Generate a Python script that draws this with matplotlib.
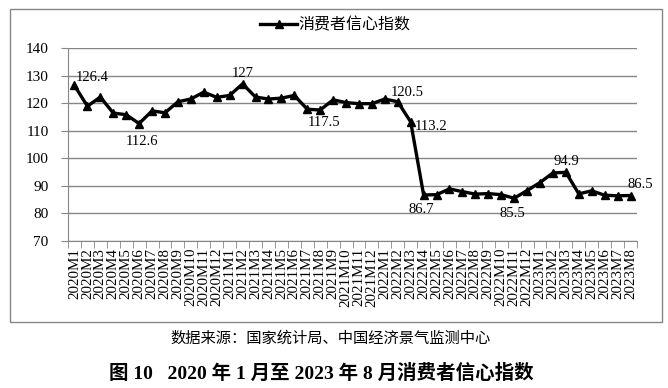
import numpy as np
import matplotlib.pyplot as plt
from matplotlib.patches import Rectangle

plt.rcParams['font.family'] = ['Liberation Serif', 'Noto Sans CJK SC']

months = ['2020M%d' % i for i in range(1, 13)] + \
         ['2021M%d' % i for i in range(1, 13)] + \
         ['2022M%d' % i for i in range(1, 13)] + \
         ['2023M%d' % i for i in range(1, 9)]

cci = [126.4, 118.9, 122.2, 116.4, 115.8, 112.6, 117.2, 116.5, 120.5, 121.5, 124.0, 122.1,
       122.8, 127.0, 122.2, 121.5, 121.8, 122.8, 117.8, 117.5, 121.2, 120.2, 119.8, 119.8,
       121.5, 120.5, 113.2, 86.7, 86.8, 88.9, 87.9, 87.0, 87.2, 86.8, 85.5, 88.3,
       91.2, 94.7, 94.9, 87.1, 88.2, 86.6, 86.4, 86.5]

# index, offset (pt), ha, va
notes = [(0, (1, 1), 'left', 'bottom'),
         (5, (2, -8), 'center', 'top'),
         (13, (0, 3), 'center', 'bottom'),
         (19, (3, -4), 'center', 'top'),
         (25, (-5, 2), 'left', 'bottom'),
         (26, (3, -3), 'left', 'center'),
         (27, (-2, -6), 'center', 'top'),
         (34, (-1, -6), 'center', 'top'),
         (38, (0, 3), 'center', 'bottom'),
         (43, (-2, 3), 'left', 'bottom')]

grey = '#868686'
fig = plt.figure(figsize=(6.68, 3.88), dpi=100)
fig.patches.append(Rectangle((10 / 668, 1 - 322 / 388), 652 / 668, 313 / 388,
                             transform=fig.transFigure, fill=False,
                             edgecolor=grey, lw=1))
ax = fig.add_axes([68 / 668, 1 - 241 / 388, 569 / 668, 193 / 388])

x = np.arange(len(months))
ax.plot(x, cci, color='black', lw=2.4, marker='^', ms=6, label='消费者信心指数')

for i, off, ha, va in notes:
    v = cci[i]
    txt = ('%g' % v) if v != int(v) else '%d' % v
    ax.annotate(txt, (x[i], v), xytext=off, textcoords='offset points',
                ha=ha, va=va, fontsize=10.5)

ax.set_xlim(-0.5, len(months) - 0.5)
ax.set_ylim(70, 140)
ax.set_yticks(range(70, 141, 10))
ax.yaxis.grid(True, color=grey, lw=1)
ax.set_axisbelow(True)
ax.set_xticks(x)
ax.set_xticklabels(months, rotation=90, fontsize=10.8)
ax.set_xticks(np.arange(-0.5, len(months)), minor=True)
ax.tick_params(axis='x', which='major', length=0, pad=5)
ax.tick_params(axis='x', which='minor', length=5, color=grey, direction='out')
ax.tick_params(axis='y', length=5, color=grey, labelsize=11, pad=9)
for s in ['top', 'right']:
    ax.spines[s].set_visible(False)
for s in ['left', 'bottom']:
    ax.spines[s].set_color(grey)

fig.legend(loc='center', bbox_to_anchor=(0.502, 0.936), frameon=False,
           handlelength=2.3, handletextpad=0.1,
           prop={'family': 'Noto Sans CJK SC', 'size': 11.5})

fig.text(0.495, 1 - 338 / 388, '数据来源：国家统计局、中国经济景气监测中心',
         ha='center', va='center', fontsize=11, family='Noto Sans CJK SC')
fig.text(0.481, 1 - 373 / 388, '图 10   2020 年 1 月至 2023 年 8 月消费者信心指数',
         ha='center', va='center', fontsize=14, fontweight='bold')

fig.savefig('out.png', dpi=100)
